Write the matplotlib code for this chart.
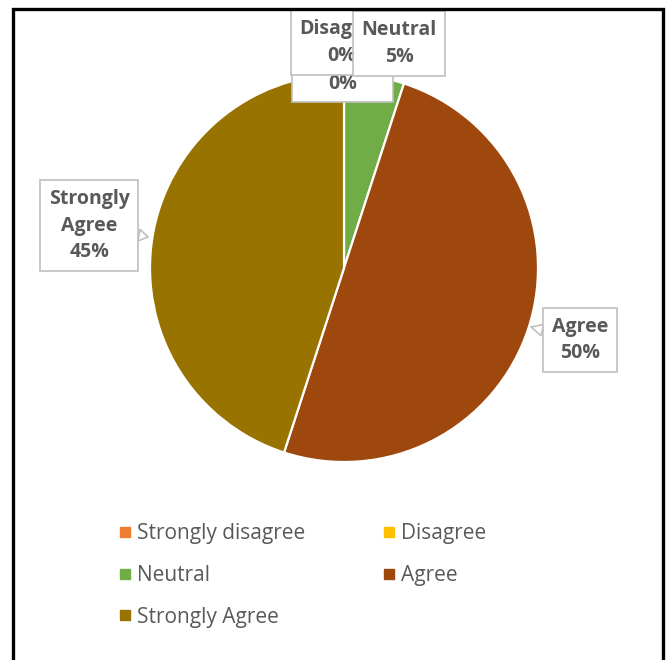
import matplotlib.pyplot as plt
from matplotlib.lines import Line2D
from matplotlib.patches import Rectangle

categories = ['Strongly disagree', 'Disagree', 'Neutral', 'Agree', 'Strongly Agree']
percent = [0, 0, 5, 50, 45]
label_names = ['Strongly\ndisagree', 'Disagree', 'Neutral', 'Agree', 'Strongly\nAgree']
colors = ['#ED7D31', '#FFC000', '#70AD47', '#9E480E', '#997300']

# label box centres / callout tips (pie radius = 1)
label_pos = [(-0.008, 1.088), (-0.01, 1.162), (0.284, 1.157), (1.216, -0.371), (-1.314, 0.219)]
tips = [None, None, None, (0.964, -0.304), (-1.01, 0.16)]

txt_color = '#595959'
plt.rcParams['font.family'] = ['Open Sans', 'DejaVu Sans']

fig = plt.figure(figsize=(6.7, 6.6), dpi=100)
ax = fig.add_axes([0, 0, 1, 1])

ax.pie(percent, colors=colors, startangle=90, counterclock=False, radius=1,
       wedgeprops=dict(edgecolor='white', linewidth=1.6))
ax.set_xlim(-344 / 194, 326 / 194)
ax.set_ylim(-392 / 194, 268 / 194)
ax.axis('off')

for i in range(len(categories)):
    s = '%s\n%d%%' % (label_names[i], percent[i])
    x, y = label_pos[i]
    box = dict(boxstyle='square,pad=0.45', fc='white', ec='#BFBFBF', lw=1.2)
    if tips[i] is None:
        ax.text(x, y, s, ha='center', va='center', fontsize=14, fontweight='bold',
                color=txt_color, linespacing=1.45, bbox=box, zorder=5 + i)
    else:
        ax.annotate(s, xy=tips[i], xytext=(x, y), ha='center', va='center', fontsize=14,
                    fontweight='bold', color=txt_color, linespacing=1.45, bbox=box, zorder=5 + i,
                    arrowprops=dict(arrowstyle='wedge,tail_width=0.6', fc='white', ec='#BFBFBF',
                                    lw=1.2, shrinkA=0, shrinkB=0))

# legend is filled row by row in the reference
order = [0, 2, 4, 1, 3]
handles = [Line2D([], [], marker='s', linestyle='none', markersize=7, markerfacecolor=colors[k],
                  markeredgecolor=colors[k]) for k in order]
fig.legend(handles, [categories[k] for k in order], ncol=2, loc='upper left',
           bbox_to_anchor=(120 / 670, 1 - 523 / 660), frameon=False, fontsize=15,
           handlelength=0.5, handletextpad=0.3, columnspacing=3.8, labelspacing=1.0,
           borderpad=0, borderaxespad=0, labelcolor=txt_color)

fig.add_artist(Rectangle((13 / 670, -0.1), 650 / 670, 1.1 - 9 / 660, transform=fig.transFigure,
                         fill=False, ec='black', lw=2.4))

fig.savefig('out.png', dpi=100)
